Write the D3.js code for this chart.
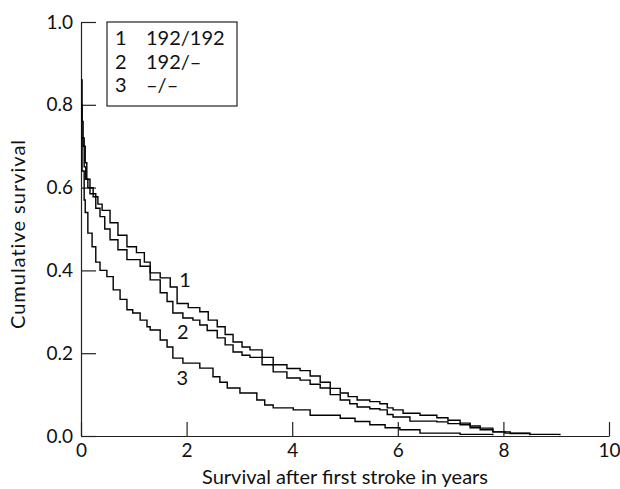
<!DOCTYPE html>
<html>
<head>
<meta charset="utf-8">
<script src="https://cdn.jsdelivr.net/npm/d3@7"></script>
<style>
  body { margin: 0; background: #fff; }
  text { font-family: Lato, "DejaVu Sans", sans-serif; fill: #111; }
</style>
</head>
<body>
<div id="chart"></div>
<script>

// Kaplan-Meier curves: [years, cumulative survival]
var curve1 = [
  [0, 0.86], [0.02, 0.76], [0.04, 0.70], [0.08, 0.66], [0.11, 0.62], [0.17, 0.60],
  [0.23, 0.578], [0.32, 0.56], [0.40, 0.545], [0.55, 0.515], [0.70, 0.485], [0.87, 0.457],
  [1.05, 0.443], [1.20, 0.42], [1.31, 0.394], [1.50, 0.382], [1.69, 0.36], [1.82, 0.32],
  [2.03, 0.31], [2.25, 0.30], [2.41, 0.28], [2.58, 0.264], [2.73, 0.245], [2.88, 0.227],
  [3.05, 0.215], [3.20, 0.208], [3.43, 0.19], [3.64, 0.172], [3.90, 0.163], [4.15, 0.158],
  [4.34, 0.145], [4.53, 0.13], [4.72, 0.115], [4.91, 0.104], [5.06, 0.095], [5.23, 0.087],
  [5.47, 0.083], [5.66, 0.078], [5.80, 0.068], [5.91, 0.063], [6.10, 0.055], [6.42, 0.05],
  [6.74, 0.044], [6.95, 0.038], [7.18, 0.031], [7.37, 0.024], [7.56, 0.019], [7.80, 0.01],
  [8.03, 0.007], [8.50, 0.004], [9.07, 0.002]
];

var curve2 = [
  [0, 0.80], [0.02, 0.72], [0.06, 0.65], [0.09, 0.62], [0.13, 0.60], [0.17, 0.585],
  [0.28, 0.55], [0.36, 0.53], [0.45, 0.50], [0.55, 0.474], [0.70, 0.45], [0.87, 0.426],
  [1.12, 0.41], [1.31, 0.377], [1.50, 0.346], [1.63, 0.325], [1.74, 0.297], [1.93, 0.285],
  [2.12, 0.28], [2.25, 0.268], [2.39, 0.255], [2.58, 0.237], [2.73, 0.22], [2.88, 0.203],
  [3.05, 0.195], [3.20, 0.19], [3.43, 0.172], [3.64, 0.155], [3.90, 0.14], [4.15, 0.135],
  [4.34, 0.125], [4.53, 0.116], [4.72, 0.10], [4.91, 0.087], [5.09, 0.078], [5.23, 0.07],
  [5.47, 0.066], [5.66, 0.063], [5.80, 0.052], [5.91, 0.046], [6.23, 0.036], [6.74, 0.034],
  [6.95, 0.030], [7.18, 0.027], [7.37, 0.02], [7.56, 0.015], [7.80, 0.01], [8.13, 0.006],
  [8.50, 0.002]
];

var curve3 = [
  [0, 0.72], [0.02, 0.64], [0.06, 0.57], [0.08, 0.54], [0.13, 0.49], [0.21, 0.457],
  [0.28, 0.42], [0.36, 0.40], [0.49, 0.385], [0.61, 0.353], [0.74, 0.33], [0.87, 0.305],
  [0.98, 0.297], [1.12, 0.28], [1.25, 0.264], [1.31, 0.256], [1.50, 0.232], [1.63, 0.215],
  [1.74, 0.188], [1.93, 0.176], [2.25, 0.164], [2.50, 0.143], [2.63, 0.13], [2.77, 0.116],
  [3.01, 0.104], [3.33, 0.087], [3.48, 0.075], [3.64, 0.068], [4.02, 0.063], [4.34, 0.05],
  [4.91, 0.043], [5.19, 0.035], [5.47, 0.027], [5.76, 0.02], [6.04, 0.015], [6.42, 0.007],
  [7.18, 0.004], [7.80, 0.002]
];

var curves = [curve1, curve2, curve3];

// curve number labels, placed in data units next to each line
var curveLabels = [
  { text: "1", t: 1.97, s: 0.36 },
  { text: "2", t: 1.93, s: 0.235 },
  { text: "3", t: 1.92, s: 0.123 }
];

var legendNums = ["1", "2", "3"];
var legendNames = ["192/192", "192/\u2013", "\u2013/\u2013"];

var xTicks = [0, 2, 4, 6, 8, 10];
var yTicks = [0, 0.2, 0.4, 0.6, 0.8, 1.0];


// chart size
var svgWidth = 620;
var svgHeight = 489;

var margin = { top: 22, right: 11, bottom: 53, left: 81 };

var width = svgWidth - margin.left - margin.right;
var height = svgHeight - margin.top - margin.bottom;

var svg = d3.select("#chart")
  .append("svg")
  .attr("width", svgWidth)
  .attr("height", svgHeight);

var chartGroup = svg.append("g")
  .attr("transform", `translate(${margin.left}, ${margin.top})`);


// scales
var xScale = d3.scaleLinear().domain([0, 10]).range([0, width]);
var yScale = d3.scaleLinear().domain([0, 1]).range([height, 0]);


// axes with inward ticks
var bottomAxis = d3.axisBottom(xScale)
  .tickValues(xTicks)
  .tickFormat(d3.format("d"))
  .tickSizeInner(-14)
  .tickSizeOuter(0)
  .tickPadding(8);

var leftAxis = d3.axisLeft(yScale)
  .tickValues(yTicks)
  .tickFormat(d3.format(".1f"))
  .tickSizeInner(-15)
  .tickSizeOuter(0)
  .tickPadding(8);

var xAxisG = chartGroup.append("g")
  .attr("transform", `translate(0, ${height})`)
  .call(bottomAxis);

var yAxisG = chartGroup.append("g")
  .call(leftAxis);

[xAxisG, yAxisG].forEach(function(g) {
  g.select(".domain").attr("stroke", "#222").attr("stroke-width", 1.2);
  g.selectAll(".tick line").attr("stroke", "#222").attr("stroke-width", 1.2);
  g.selectAll(".tick text")
    .attr("font-size", "19px")
    .attr("font-family", "Lato, 'DejaVu Sans', sans-serif")
    .style("fill", "#111");
});


// survival step lines
var line = d3.line()
  .x(d => xScale(d[0]))
  .y(d => yScale(d[1]))
  .curve(d3.curveStepAfter);

chartGroup.selectAll(".km")
  .data(curves)
  .enter()
  .append("path")
  .attr("class", "km")
  .attr("d", line)
  .attr("fill", "none")
  .attr("stroke", "#000")
  .attr("stroke-width", 1.4);


// curve labels
chartGroup.selectAll(".clabel")
  .data(curveLabels)
  .enter()
  .append("text")
  .attr("x", d => xScale(d.t))
  .attr("y", d => yScale(d.s))
  .attr("text-anchor", "middle")
  .attr("font-size", "20px")
  .text(d => d.text);


// legend box
var legend = svg.append("g")
  .attr("transform", "translate(107, 22)");

legend.append("rect")
  .attr("width", 130)
  .attr("height", 84)
  .attr("fill", "#fff")
  .attr("stroke", "#222")
  .attr("stroke-width", 1.2);

var rows = legend.selectAll(".row")
  .data(legendNums)
  .enter()
  .append("g")
  .attr("transform", (d, i) => `translate(0, ${23 + i * 23.5})`);

rows.append("text")
  .attr("x", 8)
  .attr("font-size", "20px")
  .text(d => d);

rows.append("text")
  .attr("x", 39)
  .attr("font-size", "20px")
  .text((d, i) => legendNames[i]);


// axis titles
chartGroup.append("text")
  .attr("x", width / 2)
  .attr("y", height + 48)
  .attr("text-anchor", "middle")
  .attr("font-size", "20px")
  .text("Survival after first stroke in years");

chartGroup.append("text")
  .attr("transform", "rotate(-90)")
  .attr("x", -(height / 2) - 5)
  .attr("y", -56)
  .attr("text-anchor", "middle")
  .attr("font-size", "20px")
  .attr("letter-spacing", "1px")
  .text("Cumulative survival");

</script>
</body>
</html>
